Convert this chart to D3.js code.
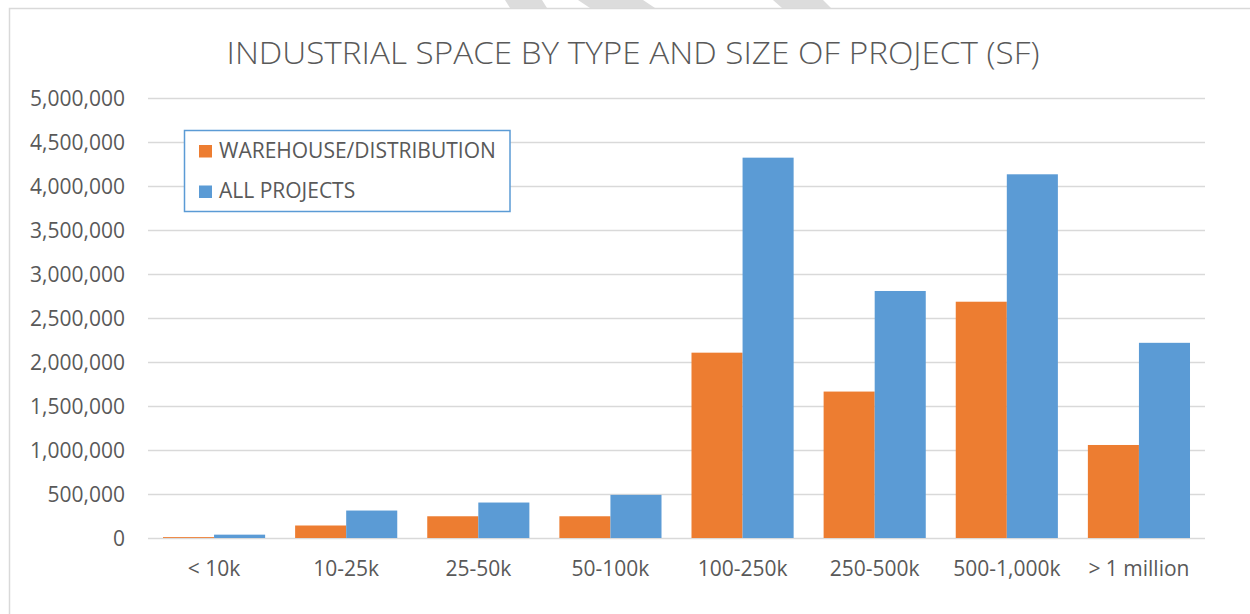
<!DOCTYPE html>
<html>
<head>
<meta charset="utf-8">
<script src="https://cdn.jsdelivr.net/npm/d3@7"></script>
<style>
  html, body { margin: 0; padding: 0; background: #fff; }
  svg { display: block; }
</style>
</head>
<body>
<svg id="chart" width="1250" height="614"></svg>
<script>
const categories = ["< 10k", "10-25k", "25-50k", "50-100k", "100-250k", "250-500k", "500-1,000k", "> 1 million"];
const seriesNames = ["WAREHOUSE/DISTRIBUTION", "ALL PROJECTS"];
const warehouseValues = [10000, 142000, 247000, 247000, 2106000, 1664000, 2685000, 1057000];
const allProjectsValues = [38000, 312000, 403000, 490000, 4322000, 2807000, 4133000, 2218000];
const yTicks = [0, 500000, 1000000, 1500000, 2000000, 2500000, 3000000, 3500000, 4000000, 4500000, 5000000];
const titleText = "INDUSTRIAL SPACE BY TYPE AND SIZE OF PROJECT (SF)";
const colors = ["#ED7D31", "#5B9BD5"];

const svg = d3.select("#chart");
const FONT = "'Open Sans', 'Liberation Sans', sans-serif";
const TXT = "#595959";

// decorative watermark stripes above the frame
const stripes = [
  [[505,0],[542,0],[547,8],[510,8]],
  [[578,0],[643,0],[655,8],[590,8]],
  [[773,0],[823,0],[831,8],[782,8]]
];
svg.selectAll("polygon.stripe").data(stripes).join("polygon")
  .attr("class","stripe")
  .attr("points", d => d.map(p => p.join(",")).join(" "))
  .attr("fill", "#dcdcdc");

// chart frame (top and left edges visible)
svg.append("path")
  .attr("d", "M9.5,614 L9.5,8.5 L1250,8.5")
  .attr("fill", "none").attr("stroke", "#d9d9d9").attr("stroke-width", 1.5);

const plot = { left: 148, right: 1205, top: 98, bottom: 538 };

const y = d3.scaleLinear().domain([0, 5000000]).range([plot.bottom, plot.top]);
const x0 = d3.scaleBand().domain(categories).range([plot.left, plot.right])
  .paddingInner(0.227).paddingOuter(0.1135);
const x1 = d3.scaleBand().domain(seriesNames).range([0, x0.bandwidth()]);

// y axis + gridlines
const yAxis = svg.append("g")
  .attr("transform", `translate(${plot.left},0)`)
  .call(d3.axisLeft(y).tickValues(yTicks).tickFormat(d3.format(",")).tickSize(-(plot.right - plot.left)).tickPadding(23));
yAxis.select(".domain").remove();
yAxis.selectAll(".tick line").attr("stroke", "#d9d9d9").attr("stroke-width", 1.5);
yAxis.selectAll(".tick text")
  .attr("fill", TXT).attr("font-family", FONT).attr("font-size", 21).attr("dy", "0.35em");

// bars
const data = categories.map((c, i) => ({ cat: c, vals: [warehouseValues[i], allProjectsValues[i]] }));
const groups = svg.append("g").selectAll("g").data(data).join("g")
  .attr("transform", d => `translate(${x0(d.cat)},0)`);
groups.selectAll("rect").data(d => d.vals.map((v, j) => ({ name: seriesNames[j], v, j })))
  .join("rect")
  .attr("x", d => x1(d.name))
  .attr("width", x1.bandwidth())
  .attr("y", d => y(d.v))
  .attr("height", d => y(0) - y(d.v))
  .attr("fill", d => colors[d.j]);

// x axis labels
const xAxis = svg.append("g")
  .attr("transform", `translate(0,${plot.bottom})`)
  .call(d3.axisBottom(x0).tickSize(0));
xAxis.select(".domain").remove();
xAxis.selectAll(".tick text")
  .attr("fill", TXT).attr("font-family", FONT).attr("font-size", 21)
  .attr("y", 38).attr("dy", 0);

// title
svg.append("text")
  .attr("x", 633).attr("y", 63.5)
  .attr("text-anchor", "middle")
  .attr("fill", TXT).attr("font-family", FONT).attr("font-weight", 300).attr("font-size", 31)
  .attr("textLength", 813).attr("lengthAdjust", "spacingAndGlyphs")
  .text(titleText);

// legend
const legend = svg.append("g");
legend.append("rect")
  .attr("x", 184.5).attr("y", 130.5).attr("width", 325.5).attr("height", 81)
  .attr("fill", "#fff").attr("stroke", "#5B9BD5").attr("stroke-width", 1.5);
const legendRows = [157.5, 198];
const li = legend.selectAll("g.item").data(seriesNames).join("g").attr("class", "item");
li.append("rect")
  .attr("x", 199).attr("y", (d, i) => legendRows[i] - 12.5)
  .attr("width", 13).attr("height", 12.5)
  .attr("fill", (d, i) => colors[i]);
li.append("text")
  .attr("x", 219).attr("y", (d, i) => legendRows[i])
  .attr("fill", TXT).attr("font-family", FONT).attr("font-size", 21)
  .text(d => d);
</script>
</body>
</html>
